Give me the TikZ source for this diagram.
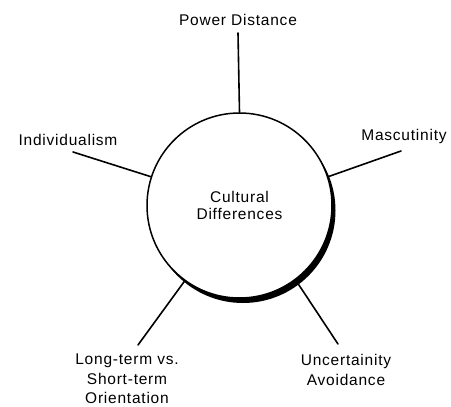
\documentclass[tikz,border=0pt]{standalone}
\usepackage{fontspec}
\setmainfont{Liberation Sans}[LetterSpace=5]
\begin{document}
\begin{tikzpicture}[x=1pt,y=-1pt,
  lbl/.style={font=\fontsize{15.5}{19.5}\selectfont, align=center, inner sep=0pt},
  conn/.style={line width=1.6pt, line cap=round}]
\useasboundingbox (0,0) rectangle (451,407);
% shadow
\fill[black] (243,210.5) circle (92.5pt);
\node[circle, draw, fill=white, line width=1.5pt, minimum size=185pt, inner sep=0pt,
  align=center, font=\fontsize{15.5}{22}\selectfont] (c) at (239.5,205.5)
  {\raisebox{-4pt}{\shortstack{Cultural\\[2pt]Differences}}};
\node[lbl] (pd) at (238,20) {Power Distance};
\node[lbl] (ind) at (68,140) {Individualism};
\node[lbl] (mas) at (404,136) {Mascutinity};
\node[lbl] (lt) at (127,379) {Long-term vs.\\Short-term\\Orientation};
\node[lbl] (ua) at (346,370) {Uncertainity\\Avoidance};
\coordinate (pdE) at (238,33);
\coordinate (indE) at (73,152);
\coordinate (masE) at (401,151);
\coordinate (ltE) at (138,345);
\coordinate (uaE) at (338,344);
\draw[conn] (c.90) -- (pdE);
\draw[conn] (c.162.8) -- (indE);
\draw[conn] (c.18.8) -- (masE);
\draw[conn] (c.234.3) -- (ltE);
\draw[conn] (c.-53.6) -- (uaE);
\end{tikzpicture}
\end{document}
